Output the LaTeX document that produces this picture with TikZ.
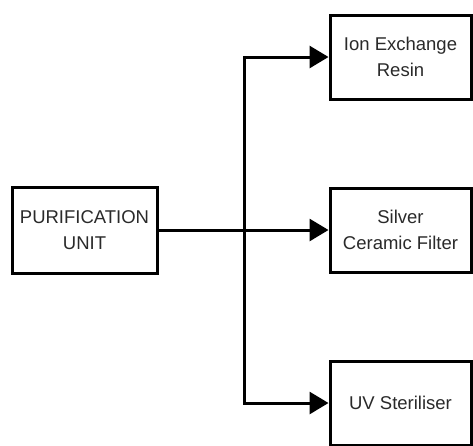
\documentclass[tikz,border=0pt]{standalone}
\usepackage{fontspec}
\setmainfont{Liberation Sans}
\usepackage{tikz}
\usetikzlibrary{arrows.meta}
\definecolor{ink}{HTML}{000000}
\definecolor{textgray}{HTML}{2A2A2A}

\begin{document}
\begin{tikzpicture}[x=1pt,y=-1pt, every node/.style={font=\fontsize{18.5}{26}\selectfont,text=textgray}, box/.style={draw=ink,line width=3pt,fill=white,minimum width=141pt,minimum height=84pt,align=center,inner sep=2pt}, wire/.style={draw=ink,line width=3pt}, arr/.style={wire,-{Triangle[length=19pt,width=22pt]}}]
\useasboundingbox (0,0) rectangle (473,445);
\node[box,minimum width=145pt,minimum height=86pt] (unit) at (84.5,230) {PURIFICATION\\UNIT};
\node[box] (ion)    at (400.5,57)  {Ion Exchange\\Resin};
\node[box] (silver) at (400.5,230) {Silver\\Ceramic Filter};
\node[box] (uv)     at (400.5,403) {UV Steriliser};
\coordinate (split) at (244,230);
\draw[wire] (unit.east)--(split);
\draw[arr] (split)|-(ion.west);
\draw[arr] (split)--(silver.west);
\draw[arr] (split)|-(uv.west);
\end{tikzpicture}
\end{document}
